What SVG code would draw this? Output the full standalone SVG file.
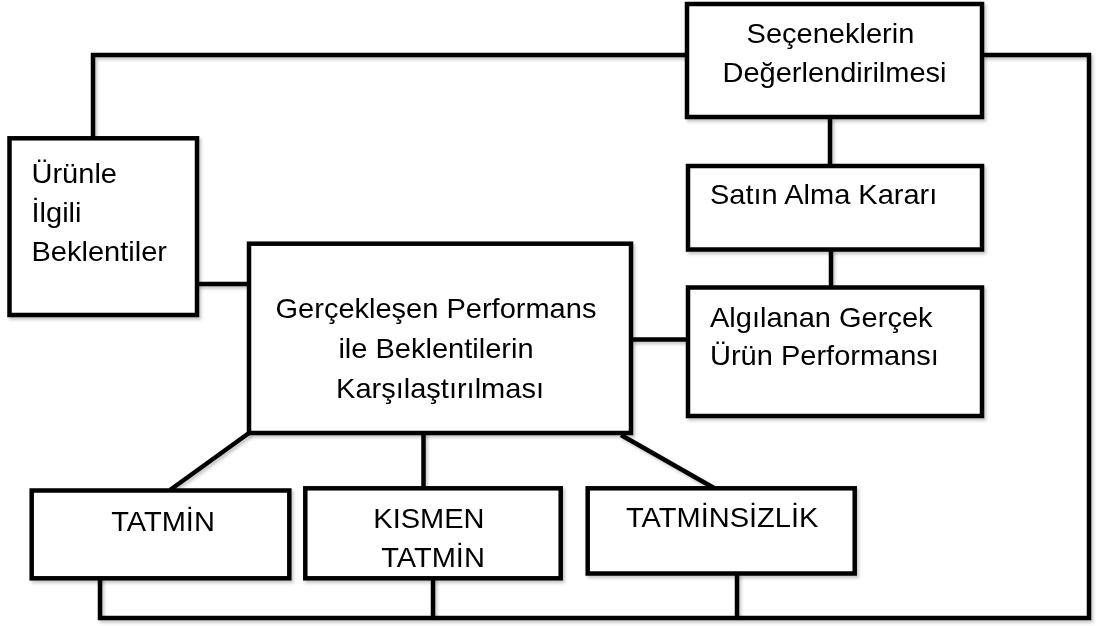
<svg xmlns="http://www.w3.org/2000/svg" width="1097" height="626" viewBox="0 0 1097 626">
  <defs>
    <style>
      .box { fill: #ffffff; stroke: #000000; stroke-width: 4.5; stroke-linejoin: miter; }
      .wire { fill: none; stroke: #000000; stroke-width: 4.5; stroke-linejoin: miter; stroke-linecap: butt; }
      .t { font-family: "Liberation Sans", Arial, sans-serif; font-size: 27px; fill: #000000; }
      .c { text-anchor: middle; }
    </style>
    <filter id="shade" x="-5%" y="-5%" width="115%" height="115%">
      <feDropShadow dx="2" dy="2.5" stdDeviation="1.5" flood-color="#000000" flood-opacity="0.22"/>
    </filter>
  </defs>
  <rect width="1097" height="626" fill="#ffffff"/>

  <!-- connectors -->
  <g id="connectors" class="wire" filter="url(#shade)">
    <!-- feedback loop across the top and down the right side -->
    <polyline points="93,138 93,55 687,55"/>
    <polyline points="982,55 1089,55 1089,618 100,618 100,577"/>
    <line x1="433" y1="578" x2="433" y2="618"/>
    <line x1="737" y1="573" x2="737" y2="618"/>
    <!-- decision chain -->
    <line x1="830" y1="117" x2="830" y2="166"/>
    <line x1="831" y1="249" x2="831" y2="288"/>
    <!-- inputs to the comparison box -->
    <line x1="197" y1="284" x2="249" y2="284"/>
    <line x1="631" y1="339.5" x2="688" y2="339.5"/>
    <!-- outcomes -->
    <line x1="249" y1="433" x2="170" y2="490"/>
    <line x1="423.5" y1="433" x2="423.5" y2="488"/>
    <line x1="621" y1="435" x2="714" y2="488"/>
  </g>

  <g id="secenekler" filter="url(#shade)">
    <rect class="box" x="687" y="4" width="295" height="113"/>
    <text class="t c" transform="matrix(1.075 0 0 1 834.5 0)">
      <tspan x="0" y="43">Seçeneklerin</tspan>
      <tspan x="0" y="82">Değerlendirilmesi</tspan>
    </text>
  </g>

  <g id="satin-alma" filter="url(#shade)">
    <rect class="box" x="688" y="166" width="294" height="83.5"/>
    <text class="t" transform="matrix(1.075 0 0 1 710 0)" x="0" y="204">Satın Alma Kararı</text>
  </g>

  <g id="algilanan" filter="url(#shade)">
    <rect class="box" x="688" y="287.5" width="294" height="128.5"/>
    <text class="t" transform="matrix(1.075 0 0 1 710 0)">
      <tspan x="0" y="327">Algılanan Gerçek</tspan>
      <tspan x="0" y="365">Ürün Performansı</tspan>
    </text>
  </g>

  <g id="beklentiler" filter="url(#shade)">
    <rect class="box" x="9.5" y="138.3" width="187.5" height="176.7"/>
    <text class="t" transform="matrix(1.075 0 0 1 31.5 0)">
      <tspan x="0" y="183">Ürünle</tspan>
      <tspan x="0" y="222">İlgili</tspan>
      <tspan x="0" y="261">Beklentiler</tspan>
    </text>
  </g>

  <g id="karsilastirma" filter="url(#shade)">
    <rect class="box" x="249" y="243.7" width="382" height="189.3"/>
    <text class="t c" transform="matrix(1.075 0 0 1 440 0)">
      <tspan x="0" y="318">Gerçekleşen Performans</tspan>
      <tspan x="0" y="358.5">ile Beklentilerin</tspan>
      <tspan x="0" y="398.5">Karşılaştırılması</tspan>
    </text>
  </g>

  <g id="tatmin" filter="url(#shade)">
    <rect class="box" x="31.7" y="490.5" width="257.6" height="87.8"/>
    <text class="t c" transform="matrix(1.075 0 0 1 163 0)" x="0" y="531">TATMİN</text>
  </g>

  <g id="kismen-tatmin" filter="url(#shade)">
    <rect class="box" x="305.3" y="488.3" width="255.4" height="90"/>
    <text class="t c" transform="matrix(1.075 0 0 1 433 0)">
      <tspan x="0" y="528">KISMEN</tspan>
      <tspan x="0" y="567">TATMİN</tspan>
    </text>
  </g>

  <g id="tatminsizlik" filter="url(#shade)">
    <rect class="box" x="587.7" y="488.3" width="267" height="85.2"/>
    <text class="t" transform="matrix(1.075 0 0 1 626 0)" x="0" y="527.5">TATMİNSİZLİK</text>
  </g>
</svg>
